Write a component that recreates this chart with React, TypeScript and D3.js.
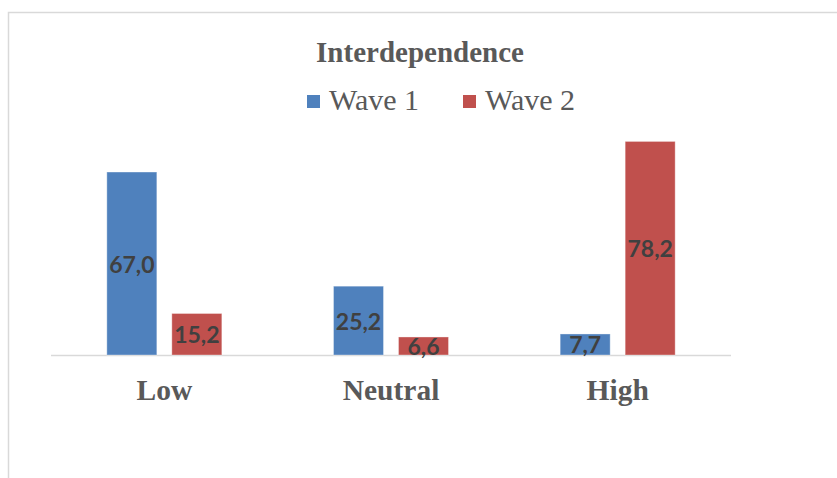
import React from "react";
import * as d3 from "d3";

const categories = ["Low", "Neutral", "High"];
const seriesNames = ["Wave 1", "Wave 2"];
const wave1 = [67.0, 25.2, 7.7];
const wave2 = [15.2, 6.6, 78.2];
const colors = ["#4F81BD", "#C0504D"];

const W = 837;
const H = 478;

export default function App() {
  const plotLeft = 51;
  const plotRight = 731;
  const baseline = 355;
  const x = d3.scaleBand<string>().domain(categories).range([plotLeft, plotRight]).paddingInner(0).paddingOuter(0);
  const y = d3.scaleLinear().domain([0, 100]).range([baseline, baseline - 273.1]);
  const series = [wave1, wave2];
  const barW = 50;
  const gap = 15;
  const fmt = (v: number) => v.toFixed(1).replace(".", ",");
  const serif = "'Liberation Serif', 'Times New Roman', serif";

  return (
    <svg width={W} height={H} style={{ position: "absolute", left: 0, top: 0, background: "#fff" }}>
      <rect x={0} y={0} width={W} height={H} fill="#fff" />
      <path d={`M8.5,${H} L8.5,12.5 L${W},12.5`} fill="none" stroke="#d9d9d9" strokeWidth={1.5} />
      <text x={420} y={62} textAnchor="middle" fontFamily={serif} fontWeight="bold" fontSize={29} fill="#595959">
        Interdependence
      </text>
      {seriesNames.map((n, i) => {
        const lx = [307, 463][i];
        return (
          <g key={n}>
            <rect x={lx} y={95} width={13} height={13} fill={colors[i]} />
            <text x={lx + 22} y={110} fontFamily={serif} fontSize={30} fill="#595959">
              {n}
            </text>
          </g>
        );
      })}
      <line x1={plotLeft} x2={plotRight} y1={baseline + 0.5} y2={baseline + 0.5} stroke="#d9d9d9" strokeWidth={1.5} />
      {categories.map((c, ci) => {
        const cx = x(c)! + x.bandwidth() / 2;
        return (
          <g key={c}>
            {series.map((s, si) => {
              const bx = si === 0 ? cx - gap / 2 - barW : cx + gap / 2;
              const top = y(s[ci]);
              return (
                <g key={si}>
                  <rect x={bx} y={top} width={barW} height={baseline - top} fill={colors[si]} stroke="rgba(255,255,255,0.35)" strokeWidth={1} />
                  <text
                    x={bx + barW / 2}
                    y={(top + baseline) / 2 + 9}
                    textAnchor="middle"
                    fontFamily="Lato, 'Open Sans', sans-serif"
                    fontWeight="bold"
                    fontSize={23}
                    fill="#404040"
                  >
                    {fmt(s[ci])}
                  </text>
                </g>
              );
            })}
            <text x={cx} y={400} textAnchor="middle" fontFamily={serif} fontWeight="bold" fontSize={29.5} fill="#595959">
              {c}
            </text>
          </g>
        );
      })}
    </svg>
  );
}
